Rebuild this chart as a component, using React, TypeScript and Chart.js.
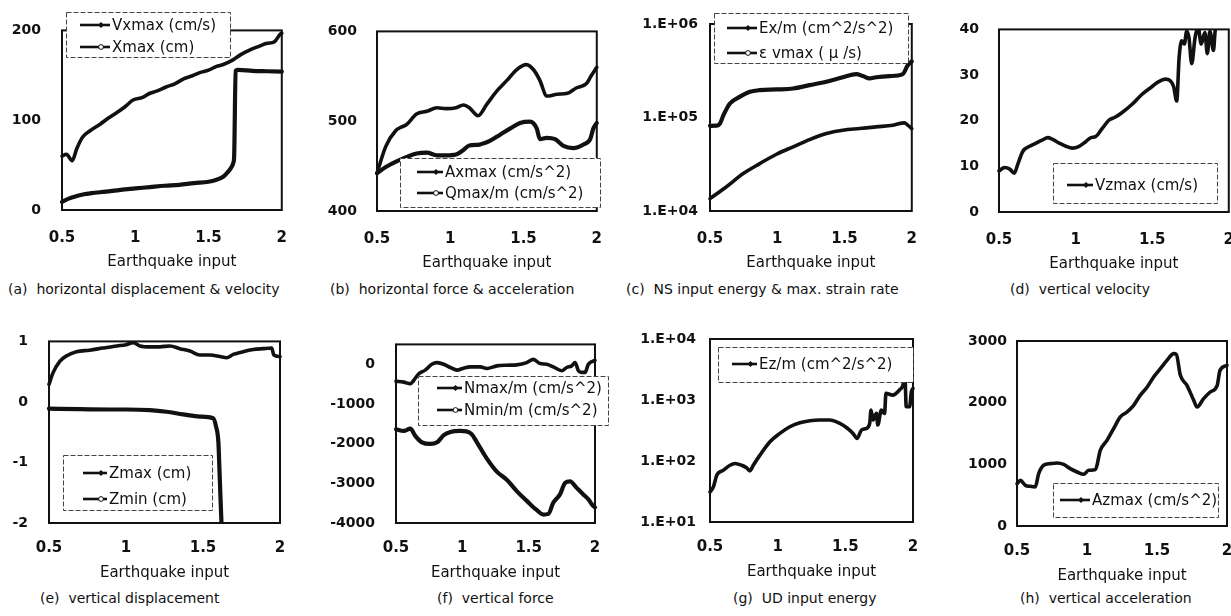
import React, { useEffect, useRef } from 'react';
import { Chart, registerables } from 'chart.js';

Chart.register(...registerables);
Chart.defaults.font.family = '"DejaVu Sans", sans-serif';
Chart.defaults.color = '#111';

// ---------------- data ----------------
const xTickValues = [0.5, 1, 1.5, 2];
const xTickLabels = ['0.5', '1', '1.5', '2'];

// (a) horizontal displacement & velocity
const aVxX = [0.5, 0.53, 0.57, 0.6, 0.64, 0.69, 0.76, 0.82, 0.87, 0.93, 0.985, 1.05, 1.1, 1.15, 1.21, 1.27, 1.33, 1.39, 1.44, 1.5, 1.555, 1.6, 1.67, 1.72, 1.78, 1.84, 1.9, 1.95, 1.99, 2.0];
const aVxY = [60, 62, 55, 68, 81, 88, 95.5, 102.7, 108, 115, 122.5, 125.4, 130, 132.6, 137, 140.5, 146, 149.5, 153, 155.7, 160, 162, 167.5, 173, 178, 182, 185.6, 187.4, 196, 197];
const aXmX = [0.5, 0.55, 0.6, 0.65, 0.7, 0.8, 0.9, 1.0, 1.1, 1.2, 1.3, 1.4, 1.5, 1.55, 1.6, 1.63, 1.65, 1.67, 1.675, 1.685, 1.7, 1.8, 1.9, 2.0];
const aXmY = [9, 13, 15.5, 17.5, 18.7, 20.5, 22.5, 24, 25.5, 27, 28, 30, 31.5, 33.5, 37, 42, 46, 53, 60, 155, 156, 155, 154.5, 154];
const aYTicks = [0, 100, 200];
const aYLabels = ['0', '100', '200'];

// (b) horizontal force & acceleration
const bAxX = [0.5, 0.56, 0.63, 0.66, 0.7, 0.77, 0.84, 0.91, 0.97, 1.04, 1.09, 1.13, 1.19, 1.25, 1.32, 1.39, 1.45, 1.52, 1.57, 1.61, 1.66, 1.73, 1.8, 1.86, 1.93, 1.96, 2.0];
const bAxY = [442, 472, 490, 493, 496, 508, 511, 515, 514, 515, 518, 515, 506, 519, 534, 546, 557, 563, 557, 546, 528, 530, 531, 537, 542, 550, 560];
const bQX = [0.5, 0.56, 0.63, 0.7, 0.77, 0.84, 0.91, 0.97, 1.04, 1.09, 1.13, 1.2, 1.27, 1.34, 1.41, 1.476, 1.544, 1.59, 1.612, 1.658, 1.715, 1.772, 1.84, 1.909, 1.955, 1.977, 2.0];
const bQY = [442, 449, 455, 460, 464, 465, 462, 462, 463, 468, 473, 474, 478, 485, 492, 498, 499.5, 492, 480, 481.5, 480, 472.5, 470, 474, 480, 492, 498];
const bYTicks = [400, 500, 600];
const bYLabels = ['400', '500', '600'];

// (c) NS input energy & max. strain rate
const cExX = [0.5, 0.62, 0.747, 0.87, 0.994, 1.118, 1.24, 1.365, 1.488, 1.612, 1.735, 1.86, 1.945, 1.97, 2.0];
const cExY = [13550, 18070, 25120, 32140, 40460, 48530, 58070, 67450, 73110, 76210, 79430, 82790, 87700, 82790, 76210];
const cEvX = [0.5, 0.55, 0.574, 0.6, 0.648, 0.72, 0.797, 0.87, 0.994, 1.118, 1.24, 1.365, 1.488, 1.587, 1.637, 1.686, 1.735, 1.834, 1.933, 1.97, 2.0];
const cEvY = [81470, 81800, 86000, 105900, 141300, 166000, 188400, 196300, 199500, 204200, 221800, 241000, 269200, 291100, 277300, 261800, 269200, 277300, 291100, 363100, 398100];
const cYTicks = [1e4, 1e5, 1e6];
const cYLabels = ['1.E+04', '1.E+05', '1.E+06'];

// (d) vertical velocity
const dX = [0.5, 0.537, 0.57, 0.6, 0.623, 0.656, 0.7, 0.742, 0.785, 0.818, 0.85, 0.893, 0.937, 0.98, 1.023, 1.066, 1.1, 1.13, 1.174, 1.217, 1.26, 1.304, 1.369, 1.434, 1.5, 1.54, 1.585, 1.617, 1.64, 1.66, 1.676, 1.693, 1.71, 1.725, 1.74, 1.758, 1.78, 1.8, 1.82, 1.844, 1.86, 1.877, 1.9, 1.91, 1.93, 1.96, 2.0];
const dY = [9.0, 9.75, 9.4, 8.5, 10.5, 13.3, 14.4, 15.1, 15.8, 16.3, 15.9, 15.1, 14.4, 14.0, 14.4, 15.4, 16.3, 16.5, 18.3, 20.1, 20.8, 21.8, 23.6, 25.8, 27.5, 28.5, 29.1, 28.8, 27.5, 24.3, 33.9, 37.5, 36.8, 39.6, 38.2, 32.5, 38.2, 40.5, 36.8, 39.3, 34.7, 39.6, 35.4, 39.3, 44, 46, 47];
const dYTicks = [0, 10, 20, 30, 40];
const dYLabels = ['0', '10', '20', '30', '40'];

// (e) vertical displacement
const eMaxX = [0.5, 0.526, 0.57, 0.613, 0.678, 0.764, 0.85, 0.94, 1.0, 1.046, 1.09, 1.155, 1.22, 1.285, 1.35, 1.415, 1.48, 1.545, 1.61, 1.653, 1.696, 1.76, 1.826, 1.89, 1.946, 1.96, 2.0];
const eMaxY = [0.29, 0.48, 0.67, 0.76, 0.83, 0.855, 0.89, 0.925, 0.945, 0.98, 0.925, 0.91, 0.91, 0.925, 0.88, 0.84, 0.775, 0.775, 0.75, 0.73, 0.785, 0.83, 0.865, 0.88, 0.89, 0.775, 0.75];
const eMinX = [0.5, 0.7, 0.9, 1.0, 1.155, 1.263, 1.37, 1.48, 1.566, 1.584, 1.6, 1.605, 1.614, 1.62, 1.63];
const eMinY = [-0.11, -0.12, -0.125, -0.125, -0.136, -0.162, -0.205, -0.243, -0.27, -0.4, -0.67, -0.99, -1.61, -2.0, -2.6];
const eYTicks = [-2, -1, 0, 1];
const eYLabels = ['-2', '-1', '0', '1'];

// (f) vertical force
const fMaxX = [0.5, 0.558, 0.608, 0.633, 0.67, 0.72, 0.77, 0.81, 0.86, 0.91, 0.96, 1.01, 1.06, 1.135, 1.185, 1.26, 1.335, 1.41, 1.486, 1.536, 1.586, 1.636, 1.686, 1.75, 1.786, 1.824, 1.85, 1.875, 1.9, 1.925, 1.95, 2.0];
const fMaxY = [-426, -451, -492, -410, -246, -148, 0, 41, 0, -82, -148, -98, -66, -66, -107, -41, -25, -16, 41, 123, 16, 0, -66, -164, -82, -41, 41, -164, -205, -205, 0, 98];
const fMinX = [0.5, 0.558, 0.608, 0.645, 0.696, 0.758, 0.81, 0.86, 0.91, 0.984, 1.03, 1.07, 1.11, 1.185, 1.26, 1.335, 1.41, 1.486, 1.56, 1.611, 1.649, 1.686, 1.736, 1.774, 1.812, 1.862, 1.912, 1.95, 1.975, 2.0];
const fMinY = [-1639, -1680, -1623, -1803, -1967, -2008, -1967, -1787, -1705, -1680, -1690, -1760, -1967, -2377, -2705, -2910, -3197, -3443, -3672, -3787, -3770, -3484, -3279, -2992, -2951, -3115, -3279, -3402, -3525, -3607];
const fYTicks = [-4000, -3000, -2000, -1000, 0];
const fYLabels = ['-4000', '-3000', '-2000', '-1000', '0'];

// (g) UD input energy
const gX = [0.5, 0.525, 0.55, 0.6, 0.648, 0.684, 0.734, 0.77, 0.795, 0.82, 0.869, 0.943, 1.016, 1.09, 1.164, 1.238, 1.31, 1.385, 1.459, 1.508, 1.557, 1.587, 1.619, 1.656, 1.68, 1.69, 1.705, 1.73, 1.74, 1.766, 1.79, 1.8, 1.85, 1.9, 1.926, 1.94, 1.95, 1.975, 1.988, 2.0];
const gY = [31.1, 37.6, 58.5, 70.8, 85.1, 91.2, 85.1, 77.3, 68.9, 85.1, 124.7, 206.5, 283.1, 364.8, 423.6, 457.1, 468.8, 468.8, 413, 354.8, 283.1, 234.4, 321.4, 342, 413, 685.5, 468.8, 602.6, 388.2, 685.5, 602.6, 1288, 1202, 1459, 1766, 2570, 776, 776, 1371, 1549];
const gYTicks = [10, 100, 1000, 10000];
const gYLabels = ['1.E+01', '1.E+02', '1.E+03', '1.E+04'];

// (h) vertical acceleration
const hX = [0.5, 0.524, 0.56, 0.595, 0.63, 0.655, 0.69, 0.738, 0.786, 0.833, 0.88, 0.93, 0.976, 1.012, 1.06, 1.095, 1.143, 1.19, 1.238, 1.286, 1.333, 1.38, 1.43, 1.476, 1.524, 1.571, 1.62, 1.638, 1.667, 1.714, 1.762, 1.786, 1.833, 1.88, 1.93, 1.95, 2.0];
const hY = [686, 740, 659, 643, 632, 849, 984, 1011, 1022, 1000, 930, 876, 838, 903, 914, 1227, 1389, 1578, 1768, 1849, 1957, 2119, 2254, 2416, 2551, 2686, 2795, 2784, 2443, 2281, 2038, 1930, 2065, 2173, 2281, 2524, 2605];
const hYTicks = [0, 1000, 2000, 3000];
const hYLabels = ['0', '1000', '2000', '3000'];

// ---------------- panel layout ----------------
type Series = { xs: number[]; ys: number[]; hollow: boolean; label: string };
type Legend = { box: number[]; line: number[]; textX: number; ys: number[] };
type Panel = {
  id: string;
  L: number; T: number; R: number; B: number;
  log: boolean; yMin: number; yMax: number;
  yTicks: number[]; yLabels: string[]; yGap: number;
  row: number;
  series: Series[];
  legend: Legend;
  caption: string; capX: number; capY: number;
};

const panels: Panel[] = [
  {
    id: 'a', L: 62, T: 25, R: 282, B: 210, log: false, yMin: 0, yMax: 200,
    yTicks: aYTicks, yLabels: aYLabels, yGap: 21, row: 0,
    series: [
      { xs: aVxX, ys: aVxY, hollow: false, label: 'Vxmax (cm/s)' },
      { xs: aXmX, ys: aXmY, hollow: true, label: 'Xmax (cm)' },
    ],
    legend: { box: [66, 12, 230, 57], line: [80, 110], textX: 112, ys: [25, 47] },
    caption: '(a)  horizontal displacement & velocity', capX: 8, capY: 289,
  },
  {
    id: 'b', L: 377, T: 27, R: 597, B: 211, log: false, yMin: 400, yMax: 600,
    yTicks: bYTicks, yLabels: bYLabels, yGap: 20, row: 0,
    series: [
      { xs: bAxX, ys: bAxY, hollow: false, label: 'Axmax (cm/s^2)' },
      { xs: bQX, ys: bQY, hollow: true, label: 'Qmax/m (cm/s^2)' },
    ],
    legend: { box: [400, 158, 600, 207], line: [417, 443], textX: 445, ys: [172, 193] },
    caption: '(b)  horizontal force & acceleration', capX: 330, capY: 289,
  },
  {
    id: 'c', L: 710, T: 24, R: 912, B: 211, log: true, yMin: 1e4, yMax: 1e6,
    yTicks: cYTicks, yLabels: cYLabels, yGap: 12, row: 0,
    series: [
      { xs: cExX, ys: cExY, hollow: false, label: 'Ex/m (cm^2/s^2)' },
      { xs: cEvX, ys: cEvY, hollow: true, label: 'ε vmax ( μ /s)' },
    ],
    legend: { box: [714, 13, 908, 63], line: [727, 757], textX: 759, ys: [28, 53] },
    caption: '(c)  NS input energy & max. strain rate', capX: 626, capY: 289,
  },
  {
    id: 'd', L: 999, T: 25, R: 1229, B: 212, log: false, yMin: 0, yMax: 40,
    yTicks: dYTicks, yLabels: dYLabels, yGap: 20, row: 0,
    series: [{ xs: dX, ys: dY, hollow: false, label: 'Vzmax (cm/s)' }],
    legend: { box: [1053, 163, 1217, 203], line: [1067, 1093], textX: 1095, ys: [185] },
    caption: '(d)  vertical velocity', capX: 1010, capY: 289,
  },
  {
    id: 'e', L: 49, T: 336, R: 280, B: 523, log: false, yMin: -2, yMax: 1,
    yTicks: eYTicks, yLabels: eYLabels, yGap: 21, row: 1,
    series: [
      { xs: eMaxX, ys: eMaxY, hollow: false, label: 'Zmax (cm)' },
      { xs: eMinX, ys: eMinY, hollow: true, label: 'Zmin (cm)' },
    ],
    legend: { box: [63, 455, 212, 510], line: [83, 107], textX: 109, ys: [473, 499] },
    caption: '(e)  vertical displacement', capX: 40, capY: 598,
  },
  {
    id: 'f', L: 396, T: 339, R: 595, B: 523, log: false, yMin: -4000, yMax: 500,
    yTicks: fYTicks, yLabels: fYLabels, yGap: 21, row: 1,
    series: [
      { xs: fMaxX, ys: fMaxY, hollow: false, label: 'Nmax/m (cm/s^2)' },
      { xs: fMinX, ys: fMinY, hollow: true, label: 'Nmin/m (cm/s^2)' },
    ],
    legend: { box: [418, 376, 608, 425], line: [437, 462], textX: 464, ys: [388, 410] },
    caption: '(f)  vertical force', capX: 437, capY: 598,
  },
  {
    id: 'g', L: 710, T: 339, R: 913, B: 522, log: true, yMin: 10, yMax: 1e4,
    yTicks: gYTicks, yLabels: gYLabels, yGap: 14, row: 1,
    series: [{ xs: gX, ys: gY, hollow: false, label: 'Ez/m (cm^2/s^2)' }],
    legend: { box: [718, 347, 913, 382], line: [732, 757], textX: 759, ys: [364] },
    caption: '(g)  UD input energy', capX: 733, capY: 598,
  },
  {
    id: 'h', L: 1017, T: 341, R: 1227, B: 526, log: false, yMin: 0, yMax: 3000,
    yTicks: hYTicks, yLabels: hYLabels, yGap: 10, row: 1,
    series: [{ xs: hX, ys: hY, hollow: false, label: 'Azmax (cm/s^2)' }],
    legend: { box: [1053, 483, 1218, 517], line: [1060, 1090], textX: 1092, ys: [500] },
    caption: '(h)  vertical acceleration', capX: 1020, capY: 598,
  },
];

const INK = '#111';

const framePlugin = {
  id: 'frame',
  afterDatasetsDraw(chart: any) {
    const { ctx, chartArea: a } = chart;
    ctx.save();
    ctx.strokeStyle = INK;
    ctx.lineWidth = 2;
    ctx.strokeRect(a.left, a.top, a.right - a.left, a.bottom - a.top);
    ctx.restore();
  },
};

function legendPlugin(p: Panel, ox: number, oy: number) {
  return {
    id: 'insideLegend',
    afterDraw(chart: any) {
      const ctx = chart.ctx as CanvasRenderingContext2D;
      const lg = p.legend;
      const [x0, y0, x1, y1] = lg.box;
      ctx.save();
      ctx.fillStyle = '#fff';
      ctx.fillRect(x0 - ox, y0 - oy, x1 - x0, y1 - y0);
      ctx.setLineDash([5, 2]);
      ctx.strokeStyle = '#444';
      ctx.lineWidth = 1;
      ctx.strokeRect(x0 - ox + 0.5, y0 - oy + 0.5, x1 - x0, y1 - y0);
      ctx.setLineDash([]);
      p.series.forEach((s, i) => {
        const y = lg.ys[i] - oy;
        const la = lg.line[0] - ox;
        const lb = lg.line[1] - ox;
        ctx.strokeStyle = INK;
        ctx.lineWidth = 2.6;
        ctx.beginPath();
        ctx.moveTo(la, y);
        ctx.lineTo(lb, y);
        ctx.stroke();
        const mx = (la + lb) / 2 + 6;
        if (s.hollow) {
          ctx.beginPath();
          ctx.arc(mx, y, 2.4, 0, Math.PI * 2);
          ctx.fillStyle = '#fff';
          ctx.fill();
          ctx.lineWidth = 1;
          ctx.stroke();
        } else {
          ctx.beginPath();
          ctx.moveTo(mx, y - 3);
          ctx.lineTo(mx + 3, y);
          ctx.lineTo(mx, y + 3);
          ctx.lineTo(mx - 3, y);
          ctx.closePath();
          ctx.fillStyle = INK;
          ctx.fill();
        }
        ctx.fillStyle = INK;
        ctx.font = '15px "DejaVu Sans", sans-serif';
        ctx.textBaseline = 'middle';
        ctx.textAlign = 'left';
        ctx.fillText(s.label, lg.textX - ox, y + 1);
      });
      ctx.restore();
    },
  };
}

function PanelChart({ p }: { p: Panel }) {
  const ref = useRef<HTMLCanvasElement>(null);
  const padL = 90;
  const padT = 24;
  const padR = 24;
  const padB = p.row === 0 ? 62 : 60;
  const w = p.R - p.L + padL + padR;
  const h = p.B - p.T + padT + padB;
  const cl = p.L - padL;
  const ct = p.T - padT;

  useEffect(() => {
    const clip = { left: 3, right: 3, top: 0, bottom: 0 };
    const datasets: any[] = [];
    p.series.forEach((s) => {
      const data = s.xs.map((x, i) => ({ x, y: s.ys[i] }));
      datasets.push({
        data,
        borderColor: INK,
        borderWidth: s.hollow ? 4.2 : 3.6,
        pointRadius: 0,
        cubicInterpolationMode: 'monotone',
        borderJoinStyle: 'round',
        borderCapStyle: 'round',
        clip,
      });
      if (s.hollow) {
        datasets.push({
          data,
          borderColor: '#6e6e6e',
          borderWidth: 1.1,
          pointRadius: 0,
          cubicInterpolationMode: 'monotone',
          borderJoinStyle: 'round',
          clip,
        });
      }
    });
    const chart = new Chart(ref.current as HTMLCanvasElement, {
      type: 'line',
      data: { datasets },
      options: {
        animation: false,
        responsive: false,
        events: [],
        layout: { padding: { left: 0, top: padT, right: padR, bottom: 0 }, autoPadding: false },
        plugins: { legend: { display: false }, tooltip: { enabled: false } },
        scales: {
          x: {
            type: 'linear',
            min: 0.5,
            max: 2,
            grid: { display: false, drawTicks: false },
            border: { display: false },
            afterBuildTicks: (s: any) => {
              s.ticks = xTickValues.map((v) => ({ value: v }));
            },
            afterFit: (s: any) => {
              s.height = padB;
            },
            ticks: {
              padding: p.row === 0 ? 19 : 16,
              autoSkip: false,
              maxRotation: 0,
              color: INK,
              font: { size: 15, weight: 'bold' },
              callback: (v: any) => {
                const i = xTickValues.indexOf(Number(v));
                return i >= 0 ? xTickLabels[i] : '';
              },
            },
            title: {
              display: true,
              text: 'Earthquake input',
              color: INK,
              font: { size: 15 },
              padding: { top: 0, bottom: 1 },
            },
          },
          y: {
            type: p.log ? 'logarithmic' : 'linear',
            min: p.yMin,
            max: p.yMax,
            grid: { display: false, drawTicks: false },
            border: { display: false },
            afterBuildTicks: (s: any) => {
              s.ticks = p.yTicks.map((v) => ({ value: v }));
            },
            afterFit: (s: any) => {
              s.width = padL;
            },
            ticks: {
              padding: p.yGap,
              autoSkip: false,
              color: INK,
              font: { size: 14, weight: 'bold' },
              callback: (v: any) => {
                const i = p.yTicks.indexOf(Number(v));
                return i >= 0 ? p.yLabels[i] : '';
              },
            },
          },
        },
      } as any,
      plugins: [framePlugin, legendPlugin(p, cl, ct)],
    });
    return () => chart.destroy();
  }, []);

  return (
    <canvas
      ref={ref}
      width={w}
      height={h}
      style={{ position: 'absolute', left: cl, top: ct, width: w, height: h }}
    />
  );
}

export default function App() {
  return (
    <div
      style={{
        position: 'absolute',
        left: 0,
        top: 0,
        width: 1231,
        height: 616,
        overflow: 'hidden',
        background: '#fff',
        fontFamily: '"DejaVu Sans", sans-serif',
      }}
    >
      {panels.map((p) => (
        <PanelChart key={p.id} p={p} />
      ))}
      {panels.map((p) => (
        <div
          key={'cap' + p.id}
          style={{
            position: 'absolute',
            left: p.capX,
            top: p.capY - 9,
            fontSize: 14,
            lineHeight: '18px',
            whiteSpace: 'pre',
            color: INK,
          }}
        >
          {p.caption}
        </div>
      ))}
    </div>
  );
}
